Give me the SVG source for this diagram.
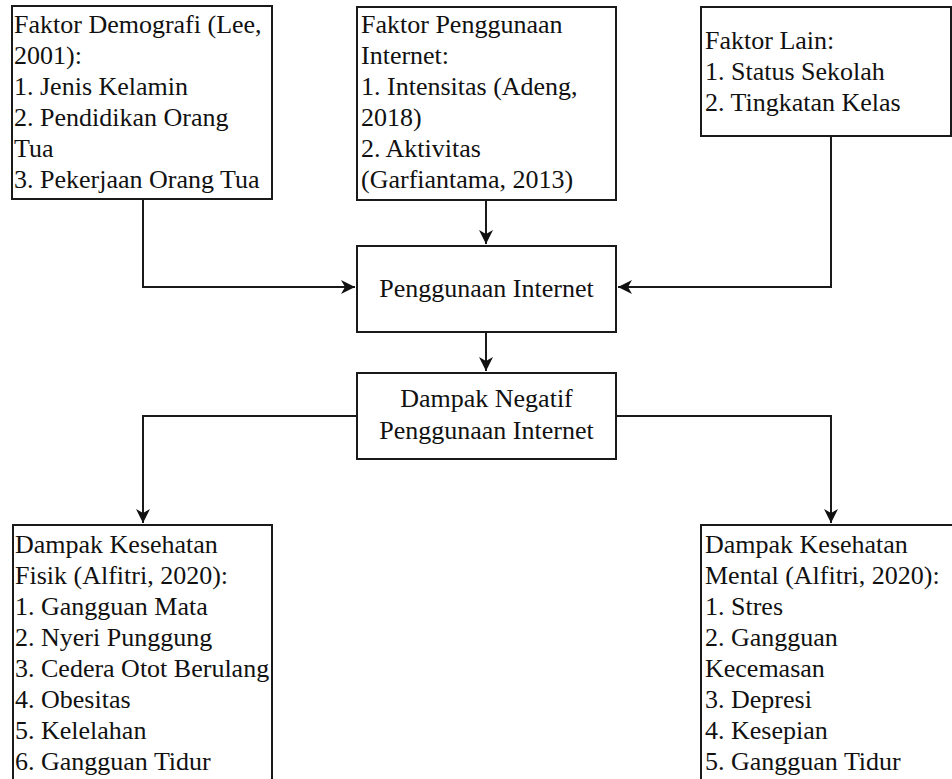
<svg xmlns="http://www.w3.org/2000/svg" width="952" height="779" viewBox="0 0 952 779">
<style>
.box{fill:#fff;stroke:#1a1a1a;stroke-width:2}
.edge{fill:none;stroke:#1a1a1a;stroke-width:2}
</style>
<defs>
<marker id="arr" markerUnits="userSpaceOnUse" markerWidth="16" markerHeight="14" refX="14" refY="7" orient="auto">
<path d="M0,0 L14,7 L0,14 L4,7 Z" fill="#111"/>
</marker>
</defs>
<rect x="0" y="0" width="952" height="779" fill="#fff"/>
<g id="connectors">
<path class="edge" d="M143,199 V287 H355" marker-end="url(#arr)"/>
<path class="edge" d="M486,200 V244" marker-end="url(#arr)"/>
<path class="edge" d="M831,136 V287 H618" marker-end="url(#arr)"/>
<path class="edge" d="M486,332 V371" marker-end="url(#arr)"/>
<path class="edge" d="M357,416 H143 V523" marker-end="url(#arr)"/>
<path class="edge" d="M616,416 H831 V523" marker-end="url(#arr)"/>
</g>
<g id="demografi">
<rect class="box" x="12" y="6" width="260" height="193"/>
<text x="14" y="33" font-family="Liberation Serif, serif" font-size="26" fill="#111">Faktor Demografi (Lee,</text>
<text x="14" y="64" font-family="Liberation Serif, serif" font-size="26" fill="#111">2001):</text>
<text x="14" y="95" font-family="Liberation Serif, serif" font-size="26" fill="#111">1. Jenis Kelamin</text>
<text x="14" y="126" font-family="Liberation Serif, serif" font-size="26" fill="#111">2. Pendidikan Orang</text>
<text x="14" y="157" font-family="Liberation Serif, serif" font-size="26" fill="#111">Tua</text>
<text x="14" y="188" font-family="Liberation Serif, serif" font-size="26" fill="#111">3. Pekerjaan Orang Tua</text>
</g>
<g id="penggunaan-faktor">
<rect class="box" x="357" y="7" width="259" height="193"/>
<text x="361" y="33" font-family="Liberation Serif, serif" font-size="26" fill="#111">Faktor Penggunaan</text>
<text x="361" y="64" font-family="Liberation Serif, serif" font-size="26" fill="#111">Internet:</text>
<text x="361" y="95" font-family="Liberation Serif, serif" font-size="26" fill="#111">1. Intensitas (Adeng,</text>
<text x="361" y="126" font-family="Liberation Serif, serif" font-size="26" fill="#111">2018)</text>
<text x="361" y="157" font-family="Liberation Serif, serif" font-size="26" fill="#111">2. Aktivitas</text>
<text x="361" y="188" font-family="Liberation Serif, serif" font-size="26" fill="#111">(Garfiantama, 2013)</text>
</g>
<g id="faktor-lain">
<rect class="box" x="701" y="7" width="250" height="129"/>
<text x="705" y="49" font-family="Liberation Serif, serif" font-size="26" fill="#111">Faktor Lain:</text>
<text x="705" y="80" font-family="Liberation Serif, serif" font-size="26" fill="#111">1. Status Sekolah</text>
<text x="705" y="111" font-family="Liberation Serif, serif" font-size="26" fill="#111">2. Tingkatan Kelas</text>
</g>
<g id="penggunaan-internet">
<rect class="box" x="357" y="246" width="259" height="86"/>
<text x="486.5" y="297" text-anchor="middle" font-family="Liberation Serif, serif" font-size="26" fill="#111">Penggunaan Internet</text>
</g>
<g id="dampak-negatif">
<rect class="box" x="357" y="373" width="259" height="86"/>
<text x="486.5" y="407" text-anchor="middle" font-family="Liberation Serif, serif" font-size="26" fill="#111">Dampak Negatif</text>
<text x="486.5" y="439" text-anchor="middle" font-family="Liberation Serif, serif" font-size="26" fill="#111">Penggunaan Internet</text>
</g>
<g id="dampak-fisik">
<rect class="box" x="13" y="525" width="259" height="260"/>
<text x="15" y="553" font-family="Liberation Serif, serif" font-size="26" fill="#111">Dampak Kesehatan</text>
<text x="15" y="584" font-family="Liberation Serif, serif" font-size="26" fill="#111">Fisik (Alfitri, 2020):</text>
<text x="15" y="615" font-family="Liberation Serif, serif" font-size="26" fill="#111">1. Gangguan Mata</text>
<text x="15" y="646" font-family="Liberation Serif, serif" font-size="26" fill="#111">2. Nyeri Punggung</text>
<text x="15" y="677" font-family="Liberation Serif, serif" font-size="26" fill="#111">3. Cedera Otot Berulang</text>
<text x="15" y="708" font-family="Liberation Serif, serif" font-size="26" fill="#111">4. Obesitas</text>
<text x="15" y="739" font-family="Liberation Serif, serif" font-size="26" fill="#111">5. Kelelahan</text>
<text x="15" y="770" font-family="Liberation Serif, serif" font-size="26" fill="#111">6. Gangguan Tidur</text>
</g>
<g id="dampak-mental">
<rect class="box" x="701" y="525" width="260" height="260"/>
<text x="705" y="553" font-family="Liberation Serif, serif" font-size="26" fill="#111">Dampak Kesehatan</text>
<text x="705" y="584" font-family="Liberation Serif, serif" font-size="26" fill="#111">Mental (Alfitri, 2020):</text>
<text x="705" y="615" font-family="Liberation Serif, serif" font-size="26" fill="#111">1. Stres</text>
<text x="705" y="646" font-family="Liberation Serif, serif" font-size="26" fill="#111">2. Gangguan</text>
<text x="705" y="677" font-family="Liberation Serif, serif" font-size="26" fill="#111">Kecemasan</text>
<text x="705" y="708" font-family="Liberation Serif, serif" font-size="26" fill="#111">3. Depresi</text>
<text x="705" y="739" font-family="Liberation Serif, serif" font-size="26" fill="#111">4. Kesepian</text>
<text x="705" y="770" font-family="Liberation Serif, serif" font-size="26" fill="#111">5. Gangguan Tidur</text>
</g>
</svg>
